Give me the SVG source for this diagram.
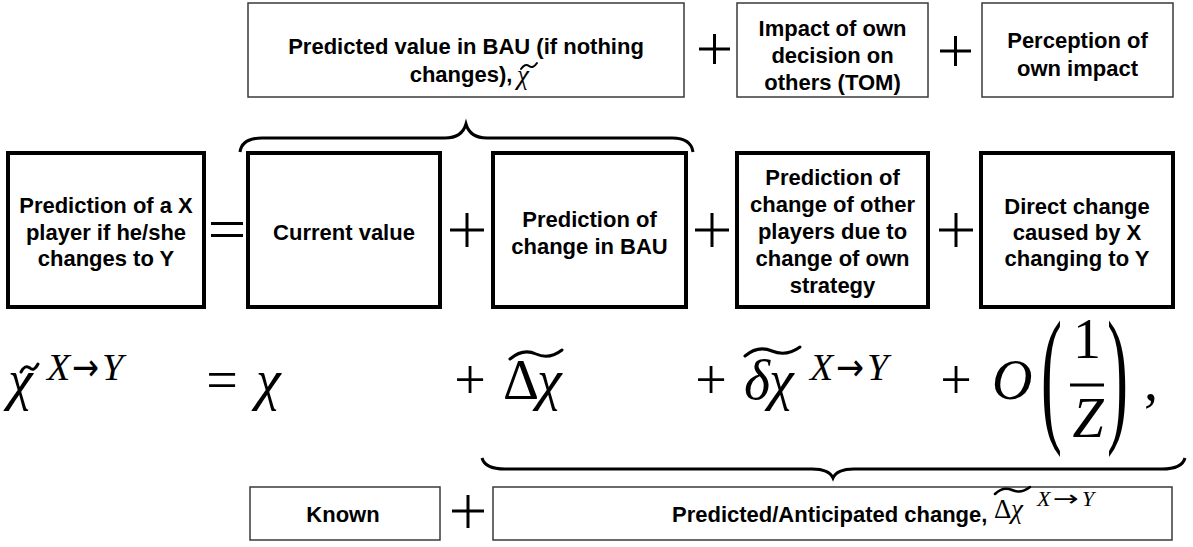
<svg xmlns="http://www.w3.org/2000/svg" width="1193" height="547" viewBox="0 0 1193 547">
<style>
.thin{fill:#fff;stroke:#3a3a3a;stroke-width:1.5}
.thick{fill:#fff;stroke:#000;stroke-width:4}
.lbl{font-family:"Liberation Sans",Arial,sans-serif;font-weight:bold;font-size:22px;fill:#000;text-anchor:middle}
.m{font-family:"Liberation Serif","Times New Roman",serif;fill:#000}
.arr{font-family:"DejaVu Sans",sans-serif;fill:#000}
.i{font-style:italic}
.big{font-size:56px}
.sup{font-size:38px}
.op{stroke:#000;stroke-width:3;fill:none}
.brace{stroke:#000;stroke-width:3;fill:none}
.tl{stroke:#000;stroke-width:2.5;fill:none;stroke-linecap:round}
</style>
<rect width="1193" height="547" fill="#fff"/>

<g id="top-bau">
<rect class="thin" x="248" y="3" width="436" height="94"/>
<text class="lbl" x="466" y="54">Predicted value in BAU (if nothing</text>
<text class="lbl" x="461" y="82">changes),</text>
<text class="m i" x="517" y="84" font-size="27">χ</text>
<path class="tl" style="stroke-width:2" d="M521,69 Q525,63 529,66 Q533,69 537,63"/>
</g>
<g id="top-tom">
<rect class="thin" x="737" y="3" width="191" height="94"/>
<text class="lbl" x="832.5" y="36">Impact of own</text>
<text class="lbl" x="832.5" y="63">decision on</text>
<text class="lbl" x="832.5" y="90">others (TOM)</text>
</g>
<g id="top-perception">
<rect class="thin" x="982" y="3" width="191" height="94"/>
<text class="lbl" x="1077.5" y="48">Perception of</text>
<text class="lbl" x="1077.5" y="76">own impact</text>
</g>

<g id="mid-prediction">
<rect class="thick" x="8" y="153" width="196" height="154"/>
<text class="lbl" x="106" y="213">Prediction of a X</text>
<text class="lbl" x="106" y="239.5">player if he/she</text>
<text class="lbl" x="106" y="266">changes to Y</text>
</g>
<g id="mid-current">
<rect class="thick" x="248" y="153" width="192" height="154"/>
<text class="lbl" x="344" y="240">Current value</text>
</g>
<g id="mid-bau">
<rect class="thick" x="493" y="153" width="193" height="154"/>
<text class="lbl" x="589.5" y="227">Prediction of</text>
<text class="lbl" x="589.5" y="254">change in BAU</text>
</g>
<g id="mid-others">
<rect class="thick" x="737" y="153" width="191" height="154"/>
<text class="lbl" x="832.5" y="185">Prediction of</text>
<text class="lbl" x="832.5" y="212">change of other</text>
<text class="lbl" x="832.5" y="239">players due to</text>
<text class="lbl" x="832.5" y="266">change of own</text>
<text class="lbl" x="832.5" y="293">strategy</text>
</g>
<g id="mid-direct">
<rect class="thick" x="981" y="153" width="192" height="154"/>
<text class="lbl" x="1077" y="214">Direct change</text>
<text class="lbl" x="1077" y="240">caused by X</text>
<text class="lbl" x="1077" y="266">changing to Y</text>
</g>

<g id="bot-known">
<rect class="thin" x="250" y="487" width="190" height="53"/>
<text class="lbl" x="343" y="522">Known</text>
</g>
<g id="bot-predicted">
<rect class="thin" x="493" y="487" width="679" height="53"/>
<text class="lbl" x="672" y="522" style="text-anchor:start">Predicted/Anticipated change,</text>
<text class="m" x="994" y="518" font-size="27">Δ</text>
<text class="m i" x="1011" y="518" font-size="27">χ</text>
<path class="tl" d="M995,494 Q1003,486 1012,490 Q1021,494 1030,487"/>
<text class="m i" x="1037" y="506" font-size="22">X</text>
<text class="arr" x="1053" y="506" font-size="22" textLength="26" lengthAdjust="spacingAndGlyphs">→</text>
<text class="m i" x="1082" y="506" font-size="22">Y</text>
</g>

<g id="equation">
<text class="m i big" x="8" y="399">χ</text>
<path class="tl" style="stroke-width:3" d="M21,372 Q25,364 30,368 Q34,372 38,364"/>
<text class="m i sup" x="47" y="380">X</text>
<text class="arr sup" x="72" y="380" textLength="27" lengthAdjust="spacingAndGlyphs">→</text>
<text class="m i sup" x="102" y="380">Y</text>

<text class="m big" x="222" y="399" text-anchor="middle">=</text>
<text class="m i big" x="256" y="399">χ</text>

<text class="m big" x="470" y="399" text-anchor="middle">+</text>
<text class="m big" x="503" y="399">Δ</text>
<text class="m i big" x="537" y="399">χ</text>
<path class="tl" style="stroke-width:3" d="M510,359 Q523,348 536,354 Q549,360 562,350"/>

<text class="m big" x="711" y="399" text-anchor="middle">+</text>
<text class="m i big" x="744" y="399">δ</text>
<text class="m i big" x="769" y="399">χ</text>
<path class="tl" style="stroke-width:3" d="M745,356 Q758,345 772,351 Q786,357 800,347"/>
<text class="m i sup" x="810" y="380">X</text>
<text class="arr sup" x="836" y="380" textLength="28" lengthAdjust="spacingAndGlyphs">→</text>
<text class="m i sup" x="867" y="380">Y</text>

<text class="m big" x="956" y="399" text-anchor="middle">+</text>
<text class="m i big" x="992" y="399">O</text>
<text class="m" font-size="150" transform="translate(1041,425) scale(0.42,1)">(</text>
<text class="m big" x="1087" y="358" text-anchor="middle">1</text>
<line class="op" x1="1070" y1="385" x2="1104" y2="385"/>
<text class="m i big" x="1088" y="437" text-anchor="middle">Z</text>
<text class="m" font-size="150" transform="translate(1107,425) scale(0.42,1)">)</text>
<text class="m big" x="1144" y="400">,</text>
</g>

<g id="connectors">
<path class="op" d="M211,223.5 H243 M211,235.5 H243"/>
<path class="op" d="M450,230 H484 M467,213 V247"/>
<path class="op" d="M695,230 H729 M712,213 V247"/>
<path class="op" d="M939,230 H973 M956,213 V247"/>
<path class="op" d="M699,49 H730 M714.5,34 V64"/>
<path class="op" d="M940,51 H971 M955.5,36 V66"/>
<path class="op" d="M452,511 H484 M468,495 V528"/>
<path class="brace" d="M240,152 Q242,138 262,138 L445,138 Q462,138 466,124 Q470,138 487,138 L672,138 Q691,138 693,152"/>
<path class="brace" d="M482,458 Q485,469 505,469 L812,469 Q829,469 833,478 Q837,469 854,469 L1162,469 Q1182,469 1185,458"/>
</g>
</svg>
